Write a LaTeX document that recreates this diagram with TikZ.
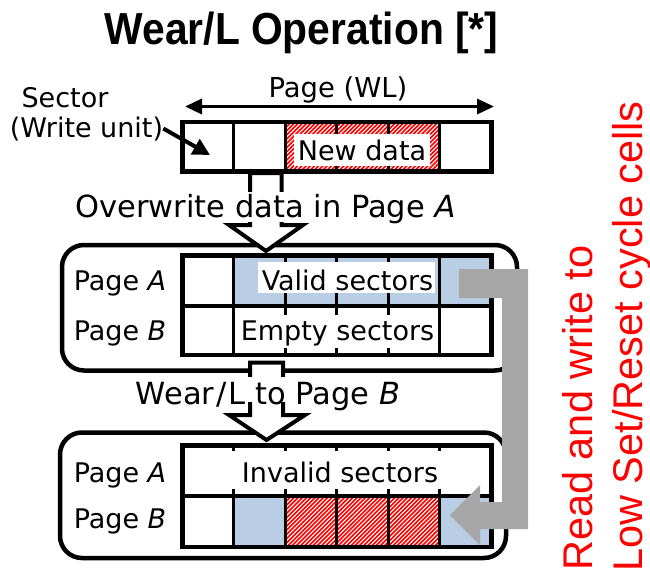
\documentclass[tikz,border=0pt]{standalone}
\usepackage{fontspec}
\setmainfont{DejaVu Sans}
\newfontfamily\arialfont{Liberation Sans}
\usetikzlibrary{arrows.meta}
\definecolor{cellblue}{RGB}{185,205,229}
\definecolor{bandgray}{RGB}{166,166,166}

% red diagonal stripes clipped to a rectangle (x1,y1,x2,y2), y pointing down
\newcommand\hatchrect[4]{%
  \begin{scope}
    \clip (#1,#2) rectangle (#3,#4);
    \pgfmathsetmacro\hatchh{#4-#2}
    \foreach \s in {0,...,52}
      \draw[red, line width=1.6pt] ({#1-\hatchh+\s*4.2},#4+2) -- ({#1+\s*4.2+2},#2);
  \end{scope}}

\begin{document}
\begin{tikzpicture}[x=1pt,y=-1pt,
  txt/.style={inner sep=0pt, anchor=base, font=\fontsize{27}{32}\selectfont},
  bigtxt/.style={txt, font=\fontsize{30.5}{36}\selectfont},
  divider/.style={line width=3pt},
  frame/.style={line width=4.5pt},
  groupbox/.style={line width=4.5pt, rounded corners=22pt},
  blockarrow/.style={draw, line width=4pt, fill=white, line join=miter},
  sidenote/.style={inner sep=0pt, anchor=base west, rotate=90, text=red,
    font=\arialfont\fontsize{41.5}{48}\selectfont}
]
\useasboundingbox (0,0) rectangle (650,573);

% title
\node[inner sep=0pt, anchor=base, yscale=1.1,
  font=\arialfont\bfseries\fontsize{40.8}{48}\selectfont] (title) at (301.5,44.5) {Wear/L Operation [*]};

% ---------- page (word line) with the new data ----------
\node[txt, font=\fontsize{27.4}{32}\selectfont] (wl) at (338,97) {Page (WL)};
\coordinate (wlL) at (185,106.5);
\coordinate (wlR) at (494,106.5);
\draw[line width=3.5pt, {Triangle[length=17pt,width=15pt]}-{Triangle[length=17pt,width=15pt]}] (wlL) -- (wlR);

\node[txt] (sector) at (65,107) {Sector};
\node[txt] (writeunit) at (86.5,137) {(Write unit)};

\hatchrect{285.25}{121.75}{439.75}{171.25}
\foreach \x in {233.75,285.25,336.75,388.25,439.75}
  \draw[divider] (\x,121.75) -- (\x,171.25);
\fill[white] (294,134) rectangle (430,166);
\node[txt] (newdata) at (362,160) {New data};
\draw[frame] (182.25,121.75) rectangle (491.25,171.25);

\coordinate (sectip) at (210,155);
\draw[line width=4pt, -{Triangle[length=17pt,width=17pt]}] (writeunit.east) -- (sectip);

% ---------- group 1: pages A and B before wear leveling ----------
\draw[groupbox] (62,245) rectangle (517,370.5);

\fill[cellblue] (233.75,255.25) rectangle (491.25,306);
\foreach \x in {233.75,285.25,336.75,388.25,439.75}
  \draw[divider] (\x,255.25) -- (\x,354.75);
\fill[white] (258,262) rectangle (435,293);
\fill[white] (238,315) rectangle (437,348);
\draw[frame] (182.25,306) -- (491.25,306);
\draw[frame] (182.25,255.25) rectangle (491.25,354.75);
\node[txt] (oneA) at (120,290) {Page \emph{A}};
\node[txt] (oneB) at (120,340) {Page \emph{B}};
\node[txt] (valid) at (347.5,290) {Valid sectors};
\node[txt] (empty) at (337.5,340) {Empty sectors};

% ---------- group 2: pages A and B after wear leveling ----------
\draw[groupbox] (60,432.5) rectangle (506,558);

\fill[cellblue] (233.75,496) rectangle (285.25,546.75);
\hatchrect{285.25}{496}{439.75}{546.75}
\fill[cellblue] (439.75,496) rectangle (491.25,546.75);
\foreach \x in {233.75,285.25,336.75,388.25,439.75}
  \draw[divider] (\x,445.25) -- (\x,546.75);
\fill[white] (188,451) rectangle (487,489);
\draw[frame] (182.25,496) -- (491.25,496);
\draw[frame] (182.25,445.25) rectangle (491.25,546.75);
\node[txt] (twoA) at (120,482) {Page \emph{A}};
\node[txt] (twoB) at (120,528) {Page \emph{B}};
\node[txt] (invalid) at (340,482) {Invalid sectors};

% ---------- hollow block arrows between the stages ----------
\draw[blockarrow] (250,173) -- (250,225) -- (229,225) -- (266,251)
  -- (303,225) -- (281.5,225) -- (281.5,173) -- cycle;
\draw[blockarrow] (250,362.5) -- (250,415) -- (229,415) -- (266.5,440)
  -- (305,415) -- (283,415) -- (283,362.5) -- cycle;
\fill[white] (71,192) rectangle (460,222);
\fill[white] (133,377) rectangle (403,402);
\node[bigtxt] (overwrite) at (265.5,217) {Overwrite data in Page \emph{A}};
\node[bigtxt] (wearto) at (268,404) {Wear\hspace{2pt}/\hspace{2pt}L to Page \emph{B}};

% ---------- gray copy arrow from page A to page B ----------
\fill[bandgray] (459,269) -- (528,269) -- (528,529) -- (480,529) -- (480,545)
  -- (450,515) -- (480,485) -- (480,502) -- (502,502) -- (502,298) -- (459,298) -- cycle;

% ---------- side note ----------
\node[sidenote] (note1) at (592,571) {Read and write to};
\node[sidenote] (note2) at (642,572) {Low Set/Reset cycle cells};
\end{tikzpicture}
\end{document}
